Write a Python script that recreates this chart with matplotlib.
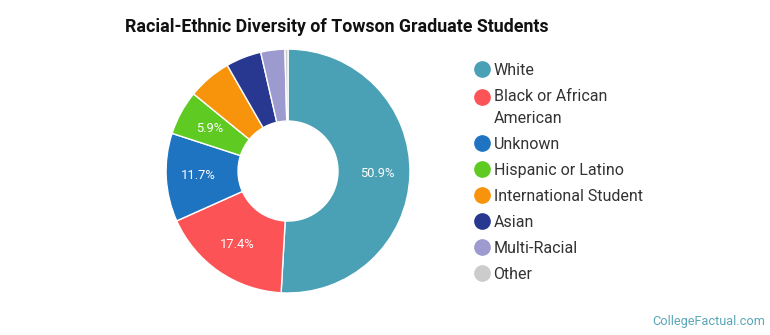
import matplotlib
matplotlib.use("Agg")
import matplotlib.pyplot as plt
from matplotlib.lines import Line2D
from matplotlib.legend_handler import HandlerLine2D
import numpy as np

plt.rcParams['font.family'] = ['Roboto', 'DejaVu Sans']

# data
groups = ["White", "Black or African\nAmerican", "Unknown", "Hispanic or Latino",
          "International Student", "Asian", "Multi-Racial", "Other"]
shares = [50.9, 17.4, 11.7, 5.9, 5.8, 4.7, 3.2, 0.4]
shown_labels = ["50.9%", "17.4%", "11.7%", "5.9%", "", "", "", ""]
colors = ["#4aa0b5", "#fc5356", "#1f74c2", "#5fcb22", "#f8940b", "#283891", "#9d9ad0", "#cccccc"]


class RaisedMarker(HandlerLine2D):
    # put the dot on the first line of a two-line label
    def __init__(self, offset, **kw):
        super().__init__(**kw)
        self.offset = offset

    def create_artists(self, *args, **kw):
        arts = super().create_artists(*args, **kw)
        for a in arts:
            a.set_ydata(np.asarray(a.get_ydata()) + self.offset)
        return arts


fig = plt.figure(figsize=(7.7, 3.35), dpi=100)
ax = fig.add_axes([0.2156, 0.1254, 0.3169, 0.728])

wedges, texts = ax.pie(shares, colors=colors, startangle=90, counterclock=False,
                       wedgeprops=dict(width=0.59, edgecolor="white", linewidth=1))
for w, lab in zip(wedges, shown_labels):
    if not lab:
        continue
    ang = np.deg2rad((w.theta1 + w.theta2) / 2)
    ax.text(0.735 * np.cos(ang), 0.735 * np.sin(ang), lab, ha="center", va="center",
            color="white", fontsize=9.3)
ax.set_xlim(-1, 1)
ax.set_ylim(-1, 1)
ax.set_aspect("equal")

fig.text(125 / 770, 1 - 27 / 335, "Racial-Ethnic Diversity of Towson Graduate Students",
         fontsize=12.8, fontweight="bold", color="#111111", va="center", ha="left")

handles = [Line2D([], [], marker="o", linestyle="", markersize=11, color=c) for c in colors]
leg = fig.legend(handles, groups, loc="upper left", bbox_to_anchor=(464 / 770, 1 - 55 / 335),
                 frameon=False, fontsize=11.5, labelspacing=0.69, handletextpad=0.15,
                 handlelength=1.2, borderpad=0,
                 handler_map={handles[1]: RaisedMarker(7.6)})
for t in leg.get_texts():
    t.set_color("#333333")
    t.set_linespacing(1.55)

fig.text(765 / 770, 1 - 321 / 335, "CollegeFactual.com", fontsize=9.2, color="#5aa6b9",
         ha="right", va="center")

fig.savefig("out.png", dpi=100)
